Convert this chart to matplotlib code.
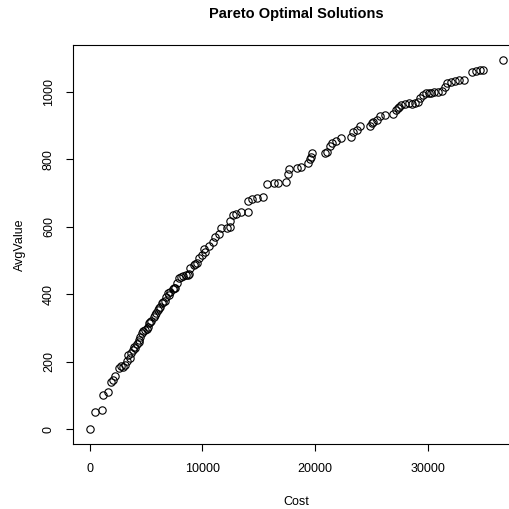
import matplotlib.pyplot as plt

# ============================================
# Pareto optimal solutions
# ============================================

cost = [
    0, 489, 1140, 1230, 1670, 1910, 2270, 2620, 2800, 3160,
    3300, 3390, 3690, 3810, 3980, 4190, 4340, 4490, 4640, 4930,
    5170, 5290, 5470, 5670, 5880, 6060, 6270, 6420, 6650, 6770,
    6950, 7160, 7360, 7600, 7750, 7960, 8250, 8550, 8840, 8930,
    9230, 9530, 9730, 9970, 10180, 10270, 10560, 10950, 11160, 11450,
    11660, 12200, 12430, 12490, 12730, 13020, 13440, 14030, 14030, 14420,
    14860, 15360, 15750, 16340, 16700, 17380, 17590, 17670, 18420, 18710,
    19360, 19540, 19660, 19750, 20840, 21080, 21320, 21530, 21820, 22270,
    23150, 23390, 23690, 23980, 24870, 25170, 25470, 25760, 26180, 26860,
    27160, 27360, 27600, 27960, 28340, 28840, 29080, 29320, 29530, 29820,
    30120, 30500, 30860, 31220, 31510, 31690, 32040, 32400, 32780, 33230,
    33880, 34270, 34650, 34860, 36690,
    # extra overlapping points in the dense part
    2100, 2950, 3550, 4050, 4400, 4780, 5050, 5380, 5780, 6150,
    6520, 7050, 7480, 8100, 8700, 9350, 25080, 27450, 28600, 30300,
]

avg_value = [
    0, 51, 58, 101, 111, 140, 157, 180, 187, 190,
    203, 220, 225, 234, 244, 252, 264, 272, 284, 294,
    302, 314, 321, 333, 343, 353, 363, 373, 381, 393,
    403, 408, 415, 420, 432, 447, 454, 457, 460, 477,
    487, 494, 507, 516, 533, 526, 543, 556, 571, 579,
    596, 596, 600, 617, 635, 638, 643, 645, 677, 682,
    685, 688, 726, 729, 731, 734, 756, 772, 775, 777,
    788, 800, 808, 818, 820, 823, 838, 848, 853, 863,
    866, 882, 887, 899, 899, 912, 917, 929, 932, 935,
    947, 952, 961, 964, 966, 966, 971, 981, 991, 996,
    998, 999, 999, 1001, 1014, 1026, 1029, 1031, 1034, 1034,
    1060, 1063, 1065, 1065, 1095,
    145, 185, 212, 240, 258, 290, 298, 318, 338, 358,
    376, 398, 418, 452, 458, 490, 908, 955, 964, 998,
]

# ============================================
# Scatter plot in the style of base R
# ============================================

plt.rcParams["font.family"] = ["Liberation Sans", "DejaVu Sans"]

fig = plt.figure(figsize=(5.10, 5.09), dpi=100)
ax = fig.add_axes([73 / 510, 65 / 509, 447 / 510, 399 / 509])

ax.plot(cost, avg_value, linestyle="none", marker="o", markersize=5.3,
        markerfacecolor="none", markeredgecolor="black", markeredgewidth=0.8)

ax.margins(0.04)

ax.set_xticks([0, 10000, 20000, 30000])
ax.set_yticks([0, 200, 400, 600, 800, 1000])
ax.set_yticklabels(["0", "200", "400", "600", "800", "1000"],
                   rotation=90, va="center")

ax.tick_params(direction="out", length=5, width=0.8, labelsize=9, pad=8)
ax.tick_params(axis="x", pad=9)
for s in ax.spines.values():
    s.set_linewidth(0.8)

ax.set_xlabel("Cost", fontsize=9, labelpad=15)
ax.set_ylabel("AvgValue", fontsize=9, labelpad=12)

fig.text(296 / 510, 1 - 14 / 509, "Pareto Optimal Solutions",
         ha="center", va="center", fontsize=10.5, fontweight="bold")

fig.savefig("out.png", dpi=100)
